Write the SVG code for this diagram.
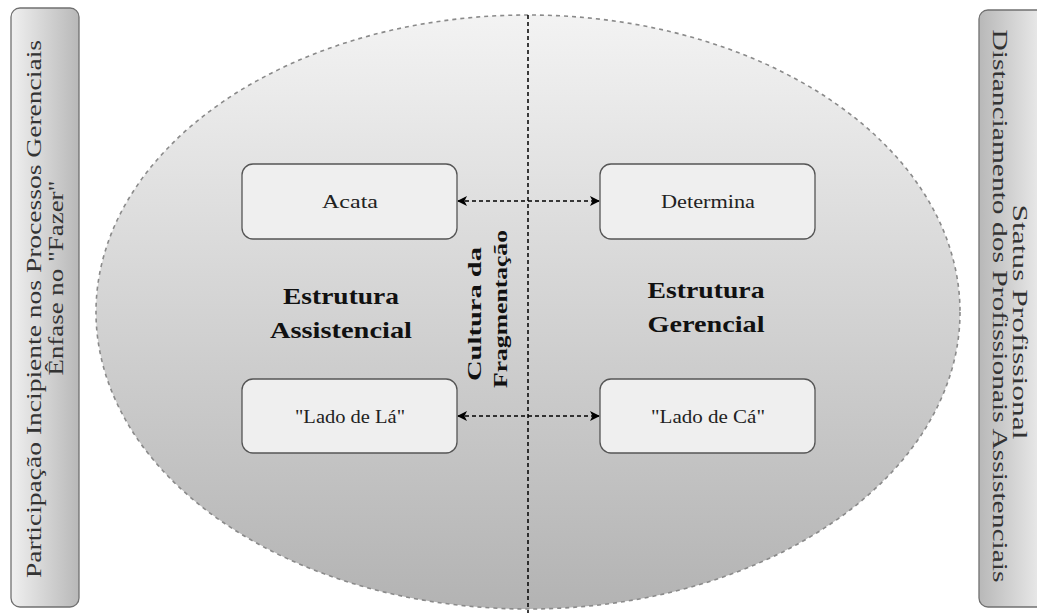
<svg xmlns="http://www.w3.org/2000/svg" width="1037" height="613" viewBox="0 0 1037 613">
  <defs>
    <linearGradient id="gEllipse" x1="0" y1="0" x2="0" y2="1">
      <stop offset="0" stop-color="#f3f3f3"/>
      <stop offset="1" stop-color="#b3b3b3"/>
    </linearGradient>
    <linearGradient id="gLeft" x1="0" y1="0" x2="1" y2="0">
      <stop offset="0" stop-color="#f0f0f0"/>
      <stop offset="1" stop-color="#b8b8b8"/>
    </linearGradient>
    <linearGradient id="gRight" x1="1" y1="0" x2="0" y2="0">
      <stop offset="0" stop-color="#f0f0f0"/>
      <stop offset="1" stop-color="#b8b8b8"/>
    </linearGradient>
    <marker id="arrow" viewBox="0 0 10 10" refX="9" refY="5" markerWidth="10" markerHeight="10" markerUnits="userSpaceOnUse" orient="auto-start-reverse">
      <path d="M0,0 L10,5 L0,10 L2.5,5 Z" fill="#000"/>
    </marker>
    <style>
      .panel { stroke: #707070; stroke-width: 1.3; }
      .box { fill: #efefef; stroke: #555; stroke-width: 1.3; }
      .boxText { font-family: "Liberation Serif", "Times New Roman", serif; font-size: 18px; fill: #222; text-anchor: middle; }
      .title { font-family: "Liberation Serif", "Times New Roman", serif; font-size: 24px; font-weight: bold; fill: #111; text-anchor: middle; }
      .sideText { font-family: "Liberation Serif", "Times New Roman", serif; font-size: 20px; fill: #333; text-anchor: middle; }
      .midText { font-family: "Liberation Serif", "Times New Roman", serif; font-size: 18px; font-weight: bold; fill: #111; text-anchor: middle; }
      .link { fill: none; stroke: #000; stroke-width: 1.5; stroke-dasharray: 4 3; }
    </style>
  </defs>

  <!-- central ellipse -->
  <g id="ellipse">
    <ellipse cx="528" cy="312" rx="432" ry="297" fill="url(#gEllipse)" stroke="#8a8a8a" stroke-width="1.6" stroke-dasharray="4 4"/>
  </g>

  <!-- side panels -->
  <g id="leftPanel">
    <rect class="panel" x="11" y="8" width="68" height="599" rx="9" fill="url(#gLeft)"/>
    <text class="sideText" transform="translate(41 309) rotate(-90)" textLength="538" lengthAdjust="spacingAndGlyphs">Participação Incipiente nos Processos Gerenciais</text>
    <text class="sideText" transform="translate(63 278) rotate(-90)" textLength="195" lengthAdjust="spacingAndGlyphs">Ênfase no "Fazer"</text>
  </g>
  <g id="rightPanel">
    <rect class="panel" x="979" y="10" width="70" height="597" rx="9" fill="url(#gRight)"/>
    <text class="sideText" transform="translate(1013 322) rotate(90)" textLength="235" lengthAdjust="spacingAndGlyphs">Status Profissional</text>
    <text class="sideText" transform="translate(993 306) rotate(90)" textLength="553" lengthAdjust="spacingAndGlyphs">Distanciamento dos Profissionais Assistenciais</text>
  </g>

  <!-- connectors -->
  <g id="connectors">
    <line class="link" x1="528" y1="15" x2="528" y2="613"/>
    <line class="link" x1="458" y1="201" x2="599" y2="201" marker-start="url(#arrow)" marker-end="url(#arrow)"/>
    <line class="link" x1="458" y1="416" x2="599" y2="416" marker-start="url(#arrow)" marker-end="url(#arrow)"/>
  </g>

  <!-- nodes -->
  <g id="acata">
    <rect class="box" x="242" y="164" width="215" height="75" rx="11"/>
    <text class="boxText" x="350" y="208" textLength="56" lengthAdjust="spacingAndGlyphs">Acata</text>
  </g>
  <g id="determina">
    <rect class="box" x="600" y="164" width="215" height="75" rx="11"/>
    <text class="boxText" x="708" y="208" textLength="94" lengthAdjust="spacingAndGlyphs">Determina</text>
  </g>
  <g id="ladoLa">
    <rect class="box" x="242" y="379" width="215" height="74" rx="11"/>
    <text class="boxText" x="350" y="423" textLength="110" lengthAdjust="spacingAndGlyphs">"Lado de Lá"</text>
  </g>
  <g id="ladoCa">
    <rect class="box" x="600" y="379" width="215" height="74" rx="11"/>
    <text class="boxText" x="708" y="423" textLength="114" lengthAdjust="spacingAndGlyphs">"Lado de Cá"</text>
  </g>

  <g id="estruturaAssistencial">
    <text class="title" x="341" y="304" textLength="116" lengthAdjust="spacingAndGlyphs">Estrutura</text>
    <text class="title" x="341" y="338" textLength="142" lengthAdjust="spacingAndGlyphs">Assistencial</text>
  </g>
  <g id="estruturaGerencial">
    <text class="title" x="706" y="298" textLength="117" lengthAdjust="spacingAndGlyphs">Estrutura</text>
    <text class="title" x="706" y="332" textLength="117" lengthAdjust="spacingAndGlyphs">Gerencial</text>
  </g>

  <g id="culturaFragmentacao">
    <text class="midText" transform="translate(481 314) rotate(-90)" textLength="134" lengthAdjust="spacingAndGlyphs">Cultura da</text>
    <text class="midText" transform="translate(507 309) rotate(-90)" textLength="158" lengthAdjust="spacingAndGlyphs">Fragmentação</text>
  </g>
</svg>
